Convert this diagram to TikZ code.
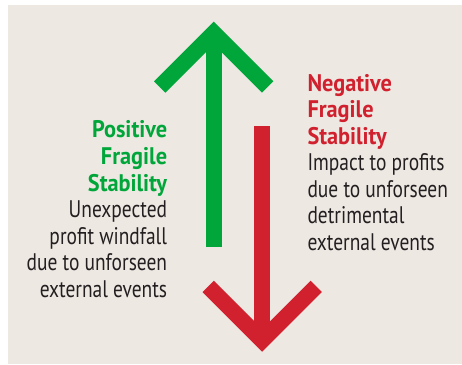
\documentclass[tikz,border=0pt]{standalone}
\usepackage{fontspec}
\setmainfont{PT Sans}
\newfontfamily\labelfont[FakeStretch=0.81]{PT Sans}
\newfontfamily\headfont[FakeStretch=0.93]{PT Sans}
\definecolor{panel}{HTML}{EDE8E2}
\definecolor{upgreen}{HTML}{00A639}
\definecolor{downred}{HTML}{D1202E}
\definecolor{ink}{HTML}{231F20}
\tikzset{
  arrowstroke/.style={line width=16pt, line cap=butt, line join=miter},
  heading/.style={inner sep=0pt, font=\headfont\bfseries\fontsize{24}{26}\selectfont},
  bodytext/.style={inner sep=0pt, text=ink, font=\labelfont\fontsize{24}{26}\selectfont},
}
\begin{document}
\begin{tikzpicture}[x=1pt, y=-1pt]
  \useasboundingbox (0,0) rectangle (462,364);
  \fill[white] (0,0) rectangle (462,364);
  \fill[panel] (8,5) rectangle (462,364);

  % upward green arrow
  \coordinate (gtail) at (213.7,246.7);
  \coordinate (gtip)  at (213.7,33);
  \coordinate (gleft) at (159.7,87);
  \coordinate (gright) at (267.7,87);
  \draw[arrowstroke, upgreen] (gtail) -- (gtip);
  \draw[arrowstroke, upgreen] (gleft) -- (gtip) -- (gright);

  % downward red arrow
  \coordinate (rtail) at (262.2,126);
  \coordinate (rtip)  at (262.2,340.4);
  \coordinate (rleft) at (208.2,286.4);
  \coordinate (rright) at (316.2,286.4);
  \draw[arrowstroke, downred] (rtail) -- (rtip);
  \draw[arrowstroke, downred] (rleft) -- (rtip) -- (rright);

  % left caption, right aligned
  \node[heading, text=upgreen, anchor=base east] (pos1) at (167.3,137.3) {Positive};
  \node[heading, text=upgreen, anchor=base east] (pos2) at (167.3,164.3) {Fragile};
  \node[heading, text=upgreen, anchor=base east] (pos3) at (167.3,191) {Stability};
  \node[bodytext, anchor=base east] (posd1) at (167.3,217.7) {Unexpected};
  \node[bodytext, anchor=base east] (posd2) at (167.3,244.2) {profit windfall};
  \node[bodytext, anchor=base east] (posd3) at (167.3,270.6) {due to unforseen};
  \node[bodytext, anchor=base east] (posd4) at (167.3,297) {external events};

  % right caption, left aligned
  \node[heading, text=downred, anchor=base west] (neg1) at (307.3,91.7) {Negative};
  \node[heading, text=downred, anchor=base west] (neg2) at (307.3,117.7) {Fragile};
  \node[heading, text=downred, anchor=base west] (neg3) at (307.3,144.3) {Stability};
  \node[bodytext, anchor=base west] (negd1) at (307.3,170.5) {Impact to profits};
  \node[bodytext, anchor=base west] (negd2) at (307.3,197) {due to unforseen};
  \node[bodytext, anchor=base west] (negd3) at (307.3,223.5) {detrimental};
  \node[bodytext, anchor=base west] (negd4) at (307.3,250) {external events};
\end{tikzpicture}
\end{document}
